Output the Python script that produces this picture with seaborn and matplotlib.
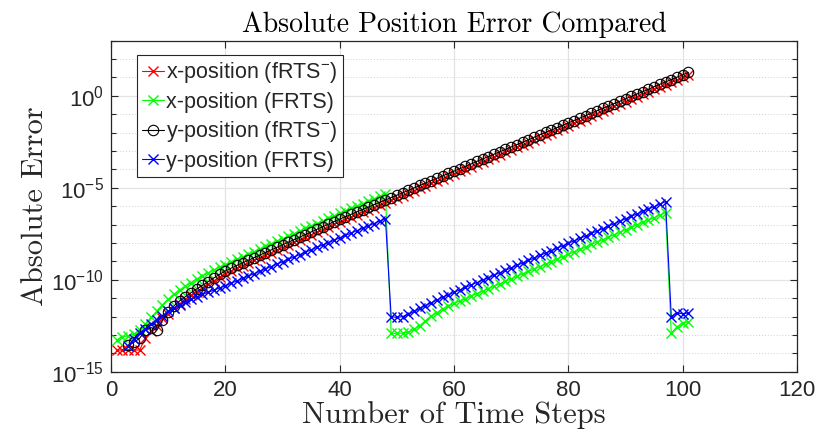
import numpy as np
import pandas as pd
import matplotlib
matplotlib.use("Agg")
import matplotlib.pyplot as plt
import seaborn as sns
from matplotlib.ticker import FixedLocator, FixedFormatter, NullFormatter

# ---- data: time step and log10 of the absolute error ----
steps = list(range(1, 102))

x_frts_minus_log10 = [
    -13.82, -13.82, -13.82, -13.82, -13.82, -13.18, -12.80, -12.50, -12.10, -11.85,
    -11.55, -11.30, -11.07, -10.85, -10.65, -10.45, -10.25, -10.05, -9.85, -9.67,
    -9.52, -9.37, -9.23, -9.09, -8.95, -8.81, -8.67, -8.53, -8.39, -8.25,
    -8.11, -7.97, -7.83, -7.69, -7.55, -7.41, -7.27, -7.13, -6.99, -6.85,
    -6.72, -6.59, -6.46, -6.33, -6.20, -6.07, -5.94, -5.81, -5.68, -5.55,
    -5.42, -5.29, -5.16, -5.02, -4.89, -4.76, -4.63, -4.50, -4.37, -4.24,
    -4.11, -3.98, -3.85, -3.71, -3.58, -3.45, -3.32, -3.19, -3.06, -2.93,
    -2.80, -2.67, -2.54, -2.40, -2.27, -2.14, -2.01, -1.88, -1.75, -1.62,
    -1.49, -1.36, -1.23, -1.09, -0.96, -0.83, -0.70, -0.57, -0.44, -0.31,
    -0.18, -0.05, 0.08, 0.21, 0.35, 0.48, 0.61, 0.74, 0.87, 1.00,
    1.13,
]

x_frts_log10 = [
    -13.28, -13.10, -13.05, -12.95, -12.72, -12.40, -12.05, -11.70, -11.35, -11.05,
    -10.80, -10.55, -10.35, -10.15, -9.95, -9.78, -9.62, -9.46, -9.31, -9.17,
    -9.03, -8.89, -8.75, -8.61, -8.47, -8.33, -8.19, -8.05, -7.91, -7.77,
    -7.63, -7.49, -7.35, -7.21, -7.07, -6.94, -6.80, -6.66, -6.52, -6.38,
    -6.25, -6.12, -5.99, -5.86, -5.73, -5.60, -5.47, -5.34, -12.90, -12.92,
    -12.90, -12.85, -12.70, -12.50, -12.22, -11.98, -11.78, -11.58, -11.42, -11.28,
    -11.15, -11.02, -10.88, -10.75, -10.62, -10.48, -10.35, -10.22, -10.08, -9.95,
    -9.82, -9.68, -9.55, -9.42, -9.28, -9.15, -9.02, -8.88, -8.75, -8.62,
    -8.48, -8.35, -8.22, -8.08, -7.95, -7.82, -7.68, -7.55, -7.42, -7.28,
    -7.15, -7.02, -6.88, -6.75, -6.62, -6.48, -6.35, -12.91, -12.55, -12.37,
    -12.28,
]

y_frts_minus_log10 = [
    np.nan, np.nan, -13.55, -13.40, -13.18, -12.75, -12.60, -12.75, -12.20, -11.75,
    -11.42, -11.15, -10.92, -10.70, -10.50, -10.30, -10.10, -9.90, -9.70, -9.52,
    -9.37, -9.22, -9.08, -8.94, -8.80, -8.66, -8.52, -8.38, -8.24, -8.10,
    -7.96, -7.82, -7.68, -7.54, -7.40, -7.26, -7.12, -6.98, -6.84, -6.70,
    -6.57, -6.44, -6.31, -6.18, -6.05, -5.92, -5.79, -5.66, -5.53, -5.40,
    -5.27, -5.14, -5.01, -4.87, -4.74, -4.61, -4.48, -4.35, -4.22, -4.09,
    -3.96, -3.83, -3.70, -3.56, -3.43, -3.30, -3.17, -3.04, -2.91, -2.78,
    -2.65, -2.52, -2.39, -2.25, -2.12, -1.99, -1.86, -1.73, -1.60, -1.47,
    -1.34, -1.21, -1.08, -0.94, -0.81, -0.68, -0.55, -0.42, -0.29, -0.16,
    -0.03, 0.10, 0.23, 0.36, 0.50, 0.63, 0.76, 0.89, 1.02, 1.15,
    1.28,
]

y_frts_log10 = [
    np.nan, np.nan, -13.62, -13.20, -12.90, -12.65, -12.42, -12.18, -11.95, -11.72,
    -11.52, -11.35, -11.20, -11.05, -10.92, -10.80, -10.68, -10.56, -10.44, -10.32,
    -10.19, -10.06, -9.93, -9.80, -9.67, -9.54, -9.41, -9.28, -9.15, -9.02,
    -8.89, -8.76, -8.63, -8.50, -8.37, -8.24, -8.11, -7.98, -7.85, -7.72,
    -7.59, -7.46, -7.33, -7.20, -7.07, -6.94, -6.81, -6.68, -12.00, -12.05,
    -12.00, -11.88, -11.72, -11.56, -11.40, -11.25, -11.10, -10.95, -10.81, -10.68,
    -10.55, -10.42, -10.28, -10.15, -10.02, -9.88, -9.75, -9.62, -9.48, -9.35,
    -9.22, -9.08, -8.95, -8.82, -8.68, -8.55, -8.42, -8.28, -8.15, -8.02,
    -7.88, -7.75, -7.62, -7.48, -7.35, -7.22, -7.08, -6.95, -6.82, -6.68,
    -6.55, -6.42, -6.28, -6.15, -6.02, -5.88, -5.75, -12.00, -11.80, -11.85,
    -11.80,
]

series_labels = [
    r"x-position (fRTS$^{-}$)",
    "x-position (FRTS)",
    r"y-position (fRTS$^{-}$)",
    "y-position (FRTS)",
]
series_values = [x_frts_minus_log10, x_frts_log10, y_frts_minus_log10, y_frts_log10]
series_colors = ["#ff0000", "#00ff00", "#000000", "#0000ff"]
series_markers = ["x", "x", "o", "x"]

x_ticks = [0, 20, 40, 60, 80, 100, 120]
y_major = [1e-15, 1e-10, 1e-5, 1e0]
y_major_labels = [r"$10^{-15}$", r"$10^{-10}$", r"$10^{-5}$", r"$10^{0}$"]

# ---- style ----
sns.set_style("ticks")
plt.rcParams["font.family"] = ["Liberation Sans", "DejaVu Sans"]
plt.rcParams["mathtext.fontset"] = "custom"
plt.rcParams["mathtext.rm"] = "Liberation Sans"
plt.rcParams["mathtext.it"] = "Liberation Sans:italic"
plt.rcParams["mathtext.bf"] = "Liberation Sans:bold"

axis_color = "#262626"

fig = plt.figure(figsize=(8.2, 4.44), dpi=100)
ax = fig.add_axes([0.1354, 0.1628, 0.8366, 0.7455])

for label, vals, color, marker in zip(series_labels, series_values,
                                      series_colors, series_markers):
    df = pd.DataFrame({"step": steps, "error": np.power(10.0, np.array(vals, dtype=float))})
    df = df.dropna()
    if marker == "o":
        sns.lineplot(data=df, x="step", y="error", ax=ax, estimator=None, sort=False,
                     color=color, linewidth=0.8, marker="o", markersize=7.5,
                     markerfacecolor="none", markeredgecolor=color,
                     markeredgewidth=0.8, label=label)
    else:
        sns.lineplot(data=df, x="step", y="error", ax=ax, estimator=None, sort=False,
                     color=color, linewidth=0.8, marker="x", markersize=6.5,
                     markeredgecolor=color, markeredgewidth=1.0, label=label)

ax.set_yscale("log")
ax.set_xlim(0, 120)
ax.set_ylim(1e-15, 1e3)

ax.xaxis.set_major_locator(FixedLocator(x_ticks))
ax.yaxis.set_major_locator(FixedLocator(y_major))
ax.yaxis.set_major_formatter(FixedFormatter(y_major_labels))
ax.yaxis.set_minor_locator(FixedLocator([10.0 ** k for k in range(-15, 4)]))
ax.yaxis.set_minor_formatter(NullFormatter())

ax.tick_params(axis="both", which="both", direction="in", top=True, right=True,
               colors=axis_color, labelsize=16)
ax.tick_params(axis="both", which="major", length=5, width=0.8)
ax.tick_params(axis="y", which="minor", length=3.5, width=0.8)
ax.tick_params(axis="x", which="major", pad=6)
ax.tick_params(axis="y", which="major", pad=5)

ax.grid(True, which="major", color="#e3e3e3", linewidth=0.9, linestyle="-")
ax.grid(True, which="minor", axis="y", color="#d0d0d0", linewidth=0.7, linestyle=(0, (1, 2)))
ax.set_axisbelow(True)

for spine in ax.spines.values():
    spine.set_color(axis_color)
    spine.set_linewidth(0.9)

ax.set_title("Absolute Position Error Compared", fontfamily="cmr10", fontsize=20,
             color="#000000", pad=6)
ax.set_xlabel("Number of Time Steps", fontfamily="cmr10", fontsize=22, labelpad=0)
ax.set_ylabel("Absolute Error", fontfamily="cmr10", fontsize=22, labelpad=2)

leg = ax.legend(loc="upper left", bbox_to_anchor=(0.038, 0.957), borderaxespad=0,
                fancybox=False, framealpha=1, edgecolor="#262626",
                prop={"family": "Liberation Sans", "size": 15.5},
                handlelength=1.0, handletextpad=0.1, borderpad=0.25,
                labelspacing=0.3)
leg.get_frame().set_linewidth(0.8)

fig.savefig("out.png", dpi=100)
